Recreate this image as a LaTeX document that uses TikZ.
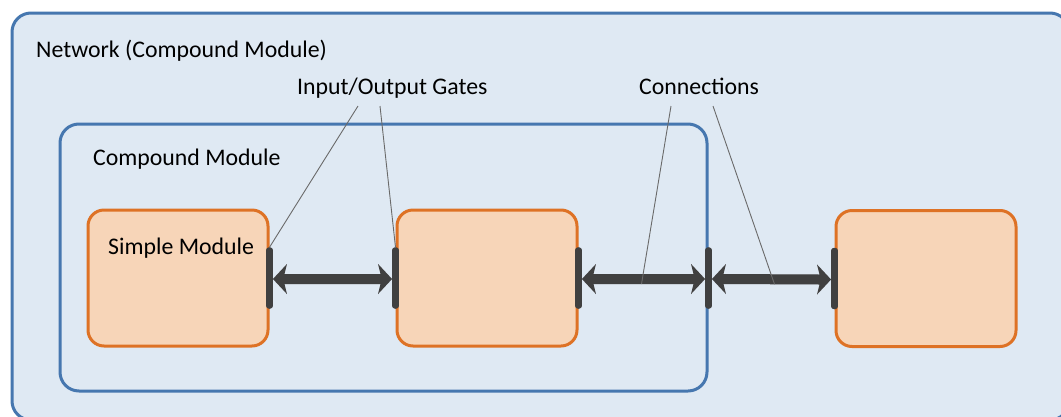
\documentclass[tikz,border=0pt]{standalone}
\usepackage{fontspec}
\setmainfont{Carlito}
\usetikzlibrary{calc}
\definecolor{netfill}{HTML}{DFE9F3}
\definecolor{netline}{HTML}{4677AF}
\definecolor{modfill}{HTML}{F7D5B8}
\definecolor{modline}{HTML}{DE7225}
\definecolor{gatecol}{HTML}{404040}
\definecolor{shadowcol}{HTML}{C8CDD3}
\definecolor{leadcol}{HTML}{6A6A6A}
\tikzset{
  compound/.style={draw=netline, fill=netfill, line width=3pt, rounded corners=19pt, inner sep=0pt},
  simplemod/.style={draw=modline, fill=modfill, line width=3pt, rounded corners=16pt, inner sep=0pt,
    minimum width=180pt, minimum height=136pt},
  gatebar/.style={fill=gatecol, rounded corners=3pt, inner sep=0pt, minimum width=6.5pt, minimum height=61pt},
  leader/.style={leadcol, line width=0.9pt},
  lbl/.style={font=\fontsize{23.8}{28}\selectfont, anchor=base west, inner sep=0pt, text=black}
}
% double-headed block arrow between two gates, with its midpoint named #3
\newcommand\linkarrow[3]{%
  \coordinate (#3a) at ($(#1.east)+(0,1)$);
  \coordinate (#3b) at ($(#2.west)+(0,1)$);
  \coordinate (#3) at ($(#3a)!0.5!(#3b)$);
  \foreach \sx/\sy/\col in {2.5/3/shadowcol, 0/0/gatecol}{
    \fill[\col, shift={(\sx,\sy)}] (#3a) -- ($(#3a)+(14,-15)$) -- ($(#3a)+(11.5,-5)$)
      -- ($(#3b)+(-11.5,-5)$) -- ($(#3b)+(-14,-15)$) -- (#3b)
      -- ($(#3b)+(-14,15)$) -- ($(#3b)+(-11.5,5)$)
      -- ($(#3a)+(11.5,5)$) -- ($(#3a)+(14,15)$) -- cycle;
  }
}
\begin{document}
\begin{tikzpicture}[x=1pt, y=-1pt]
\useasboundingbox (0,0) rectangle (1061,416);
\fill[white] (0,0) rectangle (1061,416);

% outer network
\node[compound, minimum width=1057pt, minimum height=407pt] (net) at (540.5,216.5) {};
\node[lbl] (netlbl) at (36,57) {Network (Compound Module)};

% inner compound module
\node[compound, minimum width=647pt, minimum height=267pt] (cmod) at (383.5,257.5) {};
\node[lbl] (cmodlbl) at (93,165) {Compound Module};

% simple modules
\node[simplemod] (sm1) at (178,278) {};
\node[simplemod] (sm2) at (487,278) {};
\node[simplemod] (sm3) at (926,278.5) {};
\node[lbl] (smlbl) at (108,254) {Simple Module};

% gates
\node[gatebar] (g1) at (sm1.east) {};
\node[gatebar] (g2) at (sm2.west) {};
\node[gatebar] (g3) at (sm2.east) {};
\node[gatebar] (g4) at (cmod.east |- sm2.east) {};
\node[gatebar] (g5) at (sm3.west) {};

% connections
\linkarrow{g1}{g2}{c1}
\linkarrow{g3}{g4}{c2}
\linkarrow{g4}{g5}{c3}

% gate bars drawn again on top of the arrow tips
\foreach \g in {g1,g2,g3,g4,g5}{
  \fill[gatecol, rounded corners=3pt] (\g.south west) rectangle (\g.north east);
}

% labels with leader lines
\node[lbl] (gateslbl) at (297,94) {Input/Output Gates};
\node[lbl] (connlbl) at (639,94) {Connections};
\coordinate (gl1) at (358,106);
\coordinate (gl2) at (380,106);
\coordinate (cl1) at (671,106);
\coordinate (cl2) at (713,106);
\draw[leader] (gl1) -- (g1.north);
\draw[leader] (gl2) -- (g2.north);
\draw[leader] (cl1) -- ([xshift=-2pt,yshift=-5pt]c2);
\draw[leader] (cl2) -- ([xshift=3pt,yshift=-5pt]c3);
\end{tikzpicture}
\end{document}
